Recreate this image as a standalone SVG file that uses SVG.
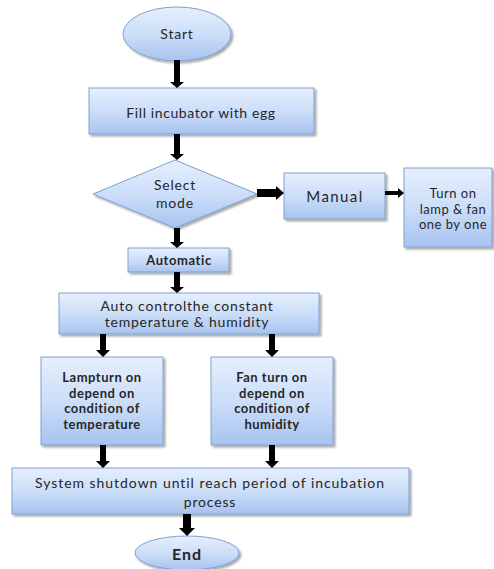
<svg xmlns="http://www.w3.org/2000/svg" width="494" height="569" viewBox="0 0 494 569">
<defs>
<linearGradient id="g" x1="0" y1="0" x2="0" y2="1">
<stop offset="0" stop-color="#e6effd"/>
<stop offset="0.55" stop-color="#c9dcf8"/>
<stop offset="1" stop-color="#a7c3f0"/>
</linearGradient>
<filter id="sh" x="-10%" y="-10%" width="125%" height="130%">
<feGaussianBlur in="SourceAlpha" stdDeviation="1.2"/>
<feOffset dx="1.5" dy="2" result="b"/>
<feComponentTransfer><feFuncA type="linear" slope="0.35"/></feComponentTransfer>
<feMerge><feMergeNode/><feMergeNode in="SourceGraphic"/></feMerge>
</filter>
</defs>
<style>
.n{fill:url(#g);stroke:#7f9fd3;stroke-width:1;filter:url(#sh)}
text{font-family:Lato,"Open Sans","Liberation Sans",sans-serif;font-size:14px;fill:#262626;text-anchor:middle;letter-spacing:0.8px}
.b{font-weight:bold}
.s{font-size:13px;letter-spacing:0.5px}
.a{fill:#000}
</style>
<g id="start"><ellipse class="n" cx="177" cy="34" rx="54" ry="27"/><text x="177" y="39">Start</text></g>
<g id="fill"><rect class="n" x="89" y="88" width="225" height="46"/><text x="201" y="118" style="letter-spacing:0.6px">Fill incubator with egg</text></g>
<g id="select"><polygon class="n" points="175,160 257,194 175,228 93,194"/><text x="175" y="190">Select</text><text x="175" y="208">mode</text></g>
<g id="manual"><rect class="n" x="284" y="173" width="101" height="46"/><text x="335" y="202" style="font-size:15px;letter-spacing:1.4px">Manual</text></g>
<g id="turnon"><rect class="n" x="404" y="168" width="88" height="79"/><text class="s" x="453" y="198">Turn on</text><text class="s" x="453" y="213.5">lamp &amp; fan</text><text class="s" x="453" y="229">one by one</text></g>
<g id="automatic"><rect class="n" x="128" y="248" width="101" height="24"/><text class="b" x="179" y="265" style="font-size:13px;letter-spacing:0.6px">Automatic</text></g>
<g id="auto"><rect class="n" x="59" y="293" width="260" height="41"/><text x="187" y="311">Auto controlthe constant</text><text x="187" y="327">temperature &amp; humidity</text></g>
<g id="lamp"><rect class="n" x="41" y="357" width="122" height="88"/><text class="b s" x="102" y="382">Lampturn on</text><text class="b s" x="102" y="397.5">depend on</text><text class="b s" x="102" y="413">condition of</text><text class="b s" x="102" y="428.5">temperature</text></g>
<g id="fan"><rect class="n" x="211" y="357" width="122" height="88"/><text class="b s" x="272" y="382">Fan turn on</text><text class="b s" x="272" y="397.5">depend on</text><text class="b s" x="272" y="413">condition of</text><text class="b s" x="272" y="428.5">humidity</text></g>
<g id="system"><rect class="n" x="12" y="468" width="397" height="46"/><text x="210" y="488" style="letter-spacing:0.95px">System shutdown  until reach period of incubation</text><text x="210" y="507">process</text></g>
<g id="end"><ellipse class="n" cx="187" cy="553" rx="52" ry="17"/><text class="b" x="187" y="560" style="font-size:16px;letter-spacing:1px">End</text></g>
<g id="connectors">
<polygon class="a" points="174,60 180,60 180,82 184,82 177,88 170,82 174,82"/>
<polygon class="a" points="174,134 180,134 180,154 184,154 177,160 170,154 174,154"/>
<polygon class="a" points="174,228 180,228 180,242 184,242 177,248 170,242 174,242"/>
<polygon class="a" points="174,272 180,272 180,287 184,287 177,293 170,287 174,287"/>
<polygon class="a" points="100,334 106,334 106,350 110,350 103,357 96,350 100,350"/>
<polygon class="a" points="269,334 275,334 275,350 279,350 272,357 265,350 269,350"/>
<polygon class="a" points="100,445 106,445 106,461 110,461 103,468 96,461 100,461"/>
<polygon class="a" points="269,445 275,445 275,461 279,461 272,468 265,461 269,461"/>
<polygon class="a" points="183,514 191,514 191,528 195,528 187,536 179,528 183,528"/>
<polygon class="a" points="257,189 276,189 276,186 284,193 276,200 276,197 257,197"/>
<polygon class="a" points="385,191 398,191 398,188 404,193 398,198 398,195 385,195"/>
</g>
</svg>
